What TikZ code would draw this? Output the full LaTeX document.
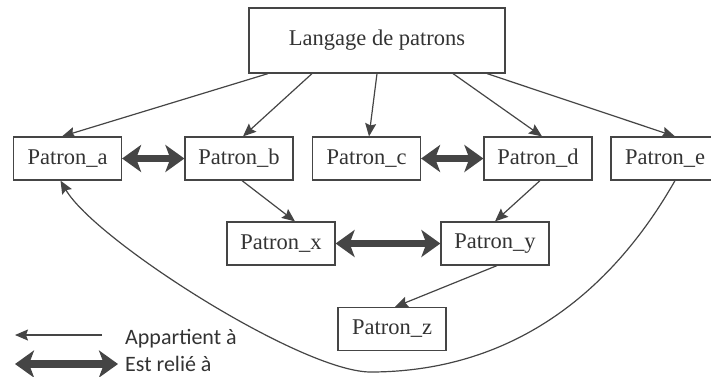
\documentclass[tikz,border=0pt]{standalone}
\usepackage{fontspec}
\setmainfont{Liberation Serif}
\newfontfamily\legendfont{Carlito}
\usetikzlibrary{arrows.meta}
\definecolor{inkline}{HTML}{454545}
\definecolor{inktext}{HTML}{333333}
\begin{document}
\begin{tikzpicture}[x=1pt,y=-1pt,
  patron/.style={draw=inkline,line width=1.2pt,minimum width=108pt,minimum height=43pt,
    inner sep=0pt,text=inktext,font=\rmfamily\fontsize{22.5}{24}\selectfont},
  belongs/.style={draw=inkline,line width=1.2pt,-{Stealth[length=13pt,width=11pt,inset=2pt]}},
  linked/.style={draw=inkline,line width=7.5pt,
    {Stealth[length=19pt,width=27pt,inset=5pt]}-{Stealth[length=19pt,width=27pt,inset=5pt]}},
  legendtext/.style={anchor=base west,inner sep=0pt,text=inktext,font=\legendfont\fontsize{22}{24}\selectfont}]
\useasboundingbox (0,0) rectangle (711,376);

% boxes
\node[patron,minimum width=256pt,minimum height=65pt] (L) at (377,40.5) {Langage de patrons};
\node[patron] (a) at (67.5,158.5) {Patron\_a};
\node[patron] (b) at (239,158.5) {Patron\_b};
\node[patron] (c) at (366.5,158.5) {Patron\_c};
\node[patron] (d) at (538,158.5) {Patron\_d};
\node[patron] (e) at (665,158.5) {Patron\_e};
\node[patron] (x) at (281,243.5) {Patron\_x};
\node[patron] (y) at (495,243.5) {Patron\_y};
\node[patron] (z) at (392,329) {Patron\_z};

% membership arrows
\draw[belongs] ([xshift=-109pt]L.south) -- ([xshift=-5.5pt]a.north);
\draw[belongs] ([xshift=-65pt]L.south) -- ([xshift=4pt]b.north);
\draw[belongs] (L.south) -- ([xshift=2.5pt]c.north);
\draw[belongs] ([xshift=76pt]L.south) -- ([xshift=4pt]d.north);
\draw[belongs] ([xshift=110pt]L.south) -- ([xshift=10pt]e.north);
\draw[belongs] ([xshift=3pt]b.south) -- ([xshift=14pt]x.north);
\draw[belongs] ([xshift=2pt]d.south) -- (y.north);
\draw[belongs] ([xshift=2pt]y.south) -- ([xshift=3pt]z.north);
\draw[belongs] ([xshift=10pt]e.south) .. controls (610,295) and (510,372) .. (370,372)
  .. controls (300,371) and (95,240) .. ([xshift=-7pt]a.south);

% links
\draw[linked] (a.east) -- (b.west);
\draw[linked] (c.east) -- (d.west);
\draw[linked] (x.east) -- (y.west);

% legend
\coordinate (k1s) at (102,335);
\coordinate (k1e) at (15,335);
\coordinate (k2s) at (15,364);
\coordinate (k2e) at (118,364);
\draw[belongs] (k1s) -- (k1e);
\draw[linked] (k2s) -- (k2e);
\node[legendtext] (t1) at (125,344) {Appartient à};
\node[legendtext] (t2) at (125,371) {Est relié à};
\end{tikzpicture}
\end{document}
